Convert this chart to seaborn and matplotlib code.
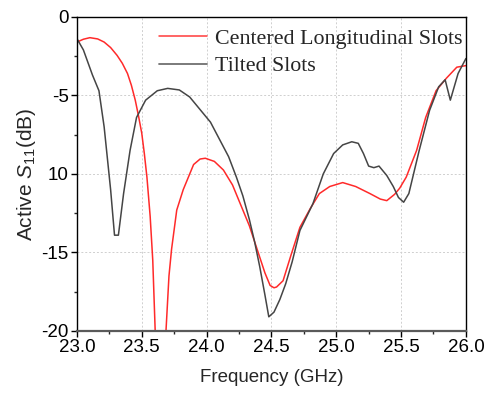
import numpy as np
import pandas as pd
import matplotlib
matplotlib.use("Agg")
import matplotlib.pyplot as plt
from matplotlib.ticker import MultipleLocator, FixedLocator, FixedFormatter
import seaborn as sns

# Centered longitudinal slots: frequency (GHz) and active S11 (dB)
freq_centered = [23.00, 23.05, 23.10, 23.16, 23.21, 23.26, 23.31, 23.35, 23.39, 23.42,
                 23.45, 23.475, 23.50, 23.52, 23.54, 23.565, 23.585, 23.605, 23.645, 23.685,
                 23.71, 23.73, 23.77, 23.82, 23.90, 23.95, 23.99, 24.06, 24.13, 24.20,
                 24.26, 24.33, 24.39, 24.45, 24.49, 24.52, 24.54, 24.59, 24.65, 24.72,
                 24.80, 24.87, 24.95, 25.05, 25.15, 25.26, 25.34, 25.39, 25.45, 25.49,
                 25.54, 25.62, 25.69, 25.77, 25.85, 25.93, 26.00]
s11_centered = [-1.60, -1.42, -1.32, -1.40, -1.60, -1.95, -2.45, -2.95, -3.60, -4.35,
                -5.30, -6.30, -7.40, -8.70, -10.20, -12.70, -15.50, -20.30, -27.00, -20.30,
                -16.50, -14.80, -12.30, -11.00, -9.40, -9.05, -9.00, -9.20, -9.75, -10.70,
                -11.90, -13.30, -14.80, -16.30, -17.10, -17.25, -17.20, -16.80, -15.20, -13.40,
                -12.20, -11.25, -10.80, -10.55, -10.80, -11.25, -11.60, -11.70, -11.30, -10.90,
                -10.20, -8.50, -6.40, -4.70, -3.90, -3.20, -3.10]

# Tilted slots
freq_tilted = [23.00, 23.05, 23.12, 23.17, 23.21, 23.26, 23.29, 23.32, 23.36, 23.41,
               23.46, 23.53, 23.62, 23.70, 23.79, 23.87, 23.95, 24.03, 24.10, 24.17,
               24.23, 24.28, 24.33, 24.37, 24.41, 24.45, 24.48, 24.52, 24.565, 24.61,
               24.66, 24.72, 24.82, 24.90, 24.98, 25.05, 25.12, 25.17, 25.21, 25.25,
               25.29, 25.33, 25.39, 25.44, 25.48, 25.52, 25.56, 25.64, 25.72, 25.79,
               25.84, 25.88, 25.94, 26.00]
s11_tilted = [-1.38, -2.10, -3.70, -4.70, -7.00, -11.00, -13.90, -13.90, -11.25, -8.50,
              -6.40, -5.30, -4.70, -4.55, -4.65, -5.10, -5.90, -6.70, -7.80, -8.90,
              -10.20, -11.40, -12.90, -14.30, -15.90, -17.70, -19.10, -18.80, -18.00, -17.00,
              -15.60, -13.60, -11.90, -10.00, -8.70, -8.15, -7.95, -8.05, -8.70, -9.50,
              -9.60, -9.50, -10.10, -10.80, -11.50, -11.80, -11.25, -8.50, -5.95, -4.45,
              -4.00, -5.30, -3.60, -2.65]

x_ticks = [23.0, 23.5, 24.0, 24.5, 25.0, 25.5, 26.0]
x_tick_labels = ["23.0", "23.5", "24.0", "24.5", "25.0", "25.5", "26.0"]
y_ticks = [0, -5, -10, -15, -20]
y_tick_labels = ["0", "-5", "10", "-15", "-20"]
series_names = ["Centered Longitudinal Slots", "Tilted Slots"]
line_colors = ["#ff2a2a", "#454545"]

df = pd.concat([
    pd.DataFrame({"freq": freq_centered, "s11": s11_centered, "series": series_names[0]}),
    pd.DataFrame({"freq": freq_tilted, "s11": s11_tilted, "series": series_names[1]}),
], ignore_index=True)

sns.set_style("ticks")
plt.rcParams["font.family"] = ["Liberation Sans", "DejaVu Sans"]
plt.rcParams["mathtext.fontset"] = "custom"
plt.rcParams["mathtext.it"] = "Liberation Sans:italic"
plt.rcParams["mathtext.rm"] = "Liberation Sans"

fig = plt.figure(figsize=(4.93, 3.94), dpi=100)
ax = fig.add_axes([0.156, 0.160, 0.789, 0.797])

sns.lineplot(data=df, x="freq", y="s11", hue="series", hue_order=series_names,
             palette=line_colors, linewidth=1.1, ax=ax,
             sort=False, estimator=None, legend=False)

ax.set_xlim(23.0, 26.0)
ax.set_ylim(-20, 0)

ax.xaxis.set_major_locator(FixedLocator(x_ticks))
ax.xaxis.set_major_formatter(FixedFormatter(x_tick_labels))
ax.yaxis.set_major_locator(FixedLocator(y_ticks))
ax.yaxis.set_major_formatter(FixedFormatter(y_tick_labels))
ax.xaxis.set_minor_locator(MultipleLocator(0.25))
ax.yaxis.set_minor_locator(MultipleLocator(2.5))

ax.tick_params(axis="both", which="major", direction="out", length=4, width=1,
               labelsize=13.5, colors="black", pad=2)
ax.tick_params(axis="both", which="minor", direction="out", length=2.5, width=1)

ax.grid(True, which="major", color="#cfcfcf", linestyle=(0, (2, 2)), linewidth=0.7)
for side in ["left", "right", "top", "bottom"]:
    ax.spines[side].set_visible(True)
    ax.spines[side].set_color("black")
    ax.spines[side].set_linewidth(1.0)
ax.spines["bottom"].set_color("#5a5a5a")
ax.spines["bottom"].set_linewidth(1.6)

ax.set_xlabel("Frequency (GHz)", fontsize=13.5, labelpad=9)
ax.set_ylabel(r"Active $S_{\mathit{11}}$(dB)", fontsize=15, labelpad=2)

# Legend: plain line handles with serif labels, no frame
handles = [plt.Line2D([], [], color="#ff3a3a", lw=1.1),
           plt.Line2D([], [], color="#707070", lw=1.3)]
ax.legend(handles, series_names, loc="upper right", frameon=False,
          prop={"family": "Liberation Serif", "size": 15.8},
          handlelength=2.2, handletextpad=0.37, labelspacing=0.33,
          borderaxespad=0.0, bbox_to_anchor=(1.015, 0.992))

fig.savefig("out.png", dpi=100)
